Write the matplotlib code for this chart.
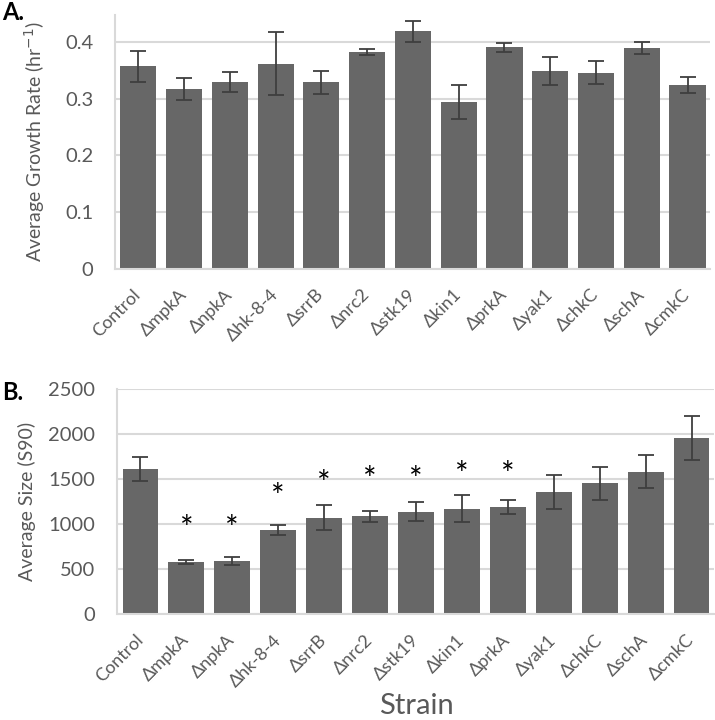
import matplotlib
matplotlib.use("Agg")
import matplotlib.pyplot as plt
import numpy as np

plt.rcParams['font.family'] = ['Lato', 'DejaVu Sans']

strains = ["Control", "ΔmpkA", "ΔnpkA", "Δhk-8-4", "ΔsrrB", "Δnrc2", "Δstk19",
           "Δkin1", "ΔprkA", "Δyak1", "ΔchkC", "ΔschA", "ΔcmkC"]

growth = [0.357, 0.317, 0.330, 0.362, 0.329, 0.383, 0.419, 0.295, 0.391, 0.349, 0.346, 0.390, 0.325]
growth_err = [0.028, 0.019, 0.018, 0.056, 0.020, 0.005, 0.018, 0.030, 0.008, 0.024, 0.020, 0.011, 0.014]

size = [1611, 574, 589, 933, 1070, 1085, 1137, 1170, 1189, 1359, 1452, 1581, 1959]
size_err = [133, 22, 48, 56, 137, 63, 107, 149, 78, 189, 180, 186, 244]

star_idx = [1, 2, 3, 4, 5, 6, 7, 8]
star_y = [1007, 1007, 1370, 1507, 1555, 1555, 1611, 1611]

bar_color = "#676767"
err_color = "#3f3f3f"
text_color = "#595959"
grid_color = "#d9d9d9"

fig = plt.figure(figsize=(7.15, 7.2), dpi=100)
W, H = 715, 720

def add_ax(l, r, t, b):
    return fig.add_axes([l / W, 1 - b / H, (r - l) / W, (b - t) / H])

axA = add_ax(115.4, 710.4, 15, 268.5)
axB = add_ax(117.5, 714.5, 389, 614)

x = np.arange(len(strains))

def style(ax, ymax, yticks, ticklabels):
    ax.set_xlim(-0.5, len(strains) - 0.5)
    ax.set_ylim(0, ymax)
    ax.set_yticks(yticks)
    ax.set_yticklabels(ticklabels)
    ax.yaxis.grid(True, color=grid_color, linewidth=1.5)
    ax.set_axisbelow(True)
    for s in ["top", "right"]:
        ax.spines[s].set_visible(False)
    for s in ["left", "bottom"]:
        ax.spines[s].set_color(grid_color)
        ax.spines[s].set_linewidth(1.5)
    ax.tick_params(axis='both', length=0, colors=text_color)
    ax.tick_params(axis='y', labelsize=14.5, pad=16)
    ax.set_xticks(x)
    ax.set_xticklabels(strains, rotation=45, ha='right', va='center',
                       rotation_mode='anchor', fontsize=13, color=text_color)
    ax.tick_params(axis='x', pad=17)

axA.bar(x, growth, width=0.79, color=bar_color, zorder=2)
axA.errorbar(x, growth, yerr=growth_err, fmt='none', ecolor=err_color,
             elinewidth=1.3, capsize=6, capthick=1.3, zorder=3)
style(axA, 0.448, [0, 0.1, 0.2, 0.3, 0.4], ["0", "0.1", "0.2", "0.3", "0.4"])
axA.set_ylabel("Average Growth Rate (hr$^{-1}$)", fontsize=14, color=text_color, labelpad=13)

axB.bar(x, size, width=0.78, color=bar_color, zorder=2)
axB.errorbar(x, size, yerr=size_err, fmt='none', ecolor=err_color,
             elinewidth=1.3, capsize=6, capthick=1.3, zorder=3)
style(axB, 2500, [0, 500, 1000, 1500, 2000, 2500],
      ["0", "500", "1000", "1500", "2000", "2500"])
axB.set_ylabel("Average Size (S90)", fontsize=14, color=text_color, labelpad=9)
axB.set_xlabel("Strain", fontsize=21, color=text_color, labelpad=2)
for i, yv in zip(star_idx, star_y):
    axB.annotate("*", (i, yv), xytext=(0, -5), textcoords='offset points',
                 ha='center', va='center', fontsize=23, color='black')

fig.text(2 / W, 1 - 13 / H, "A.", fontsize=17, fontweight='bold', va='center', ha='left')
fig.text(2 / W, 1 - 393 / H, "B.", fontsize=17, fontweight='bold', va='center', ha='left')

fig.savefig("out.png", dpi=100)
